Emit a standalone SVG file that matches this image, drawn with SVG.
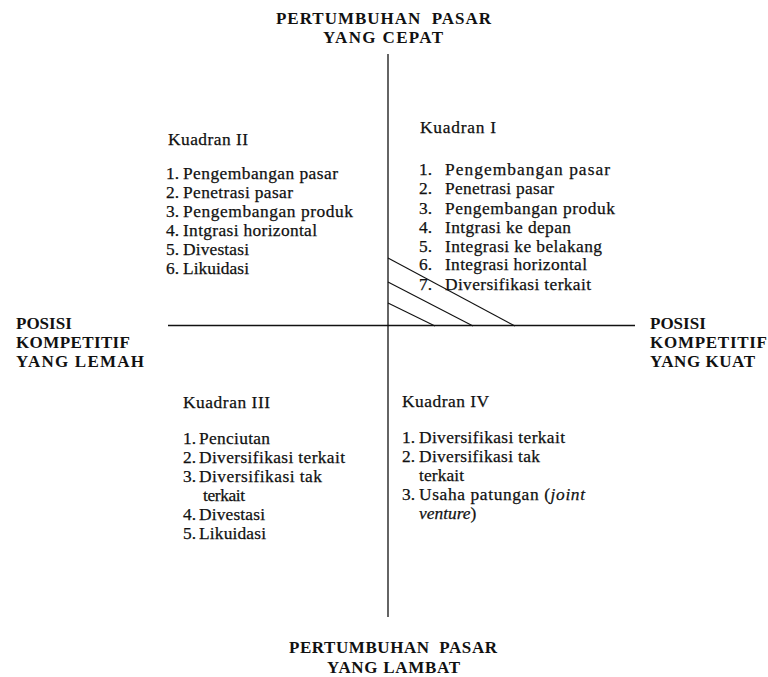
<svg xmlns="http://www.w3.org/2000/svg" width="768" height="677" viewBox="0 0 768 677">
<style>
.t{font-size:17.4px;fill:#111;stroke:#111;stroke-width:0.25}
.b{font-size:17px;font-weight:bold;fill:#111;white-space:pre}
.ax{stroke:#111;stroke-width:1.3;fill:none}
.h{stroke:#111;stroke-width:1.1;fill:none}
</style>
<rect width="768" height="677" fill="#fff"/>
<g id="connectors">
<line class="ax" x1="388" y1="54" x2="388" y2="617"/>
<line class="ax" x1="168" y1="325.5" x2="635" y2="325.5"/>
<line class="h" x1="388" y1="258" x2="515" y2="326"/>
<line class="h" x1="388" y1="282" x2="473" y2="326"/>
<line class="h" x1="388" y1="303" x2="435" y2="326"/>
</g>
<g font-family="'Liberation Serif', Tinos, 'Times New Roman', serif">
<g id="top-label">
<text class="b" x="276" y="23.5" textLength="215" lengthAdjust="spacing" xml:space="preserve">PERTUMBUHAN  PASAR</text>
<text class="b" x="323" y="43" textLength="120" lengthAdjust="spacing">YANG CEPAT</text>
</g>
<g id="bottom-label">
<text class="b" x="289" y="653" textLength="208" lengthAdjust="spacing" xml:space="preserve">PERTUMBUHAN  PASAR</text>
<text class="b" x="327" y="673" textLength="133" lengthAdjust="spacing">YANG LAMBAT</text>
</g>
<g id="left-label">
<text class="b" x="16" y="329">POSISI</text>
<text class="b" x="16" y="348" textLength="114" lengthAdjust="spacing">KOMPETITIF</text>
<text class="b" x="16" y="367" textLength="128" lengthAdjust="spacing">YANG LEMAH</text>
</g>
<g id="right-label">
<text class="b" x="650" y="329">POSISI</text>
<text class="b" x="650" y="348" textLength="117" lengthAdjust="spacing">KOMPETITIF</text>
<text class="b" x="650" y="367" textLength="105" lengthAdjust="spacing">YANG KUAT</text>
</g>
<g id="kuadran-2">
<text class="t" x="168" y="145" textLength="80" lengthAdjust="spacing">Kuadran II</text>
<text class="t" x="166" y="178.5">1.</text><text class="t" x="183" y="178.5" textLength="155" lengthAdjust="spacing">Pengembangan pasar</text>
<text class="t" x="166" y="197.5">2.</text><text class="t" x="183" y="197.5" textLength="110" lengthAdjust="spacing">Penetrasi pasar</text>
<text class="t" x="166" y="216.5">3.</text><text class="t" x="183" y="216.5" textLength="170" lengthAdjust="spacing">Pengembangan produk</text>
<text class="t" x="166" y="236">4.</text><text class="t" x="183" y="236" textLength="134" lengthAdjust="spacing">Intgrasi horizontal</text>
<text class="t" x="166" y="255">5.</text><text class="t" x="183" y="255" textLength="66" lengthAdjust="spacing">Divestasi</text>
<text class="t" x="166" y="274">6.</text><text class="t" x="183" y="274" textLength="66" lengthAdjust="spacing">Likuidasi</text>
</g>
<g id="kuadran-1">
<text class="t" x="420" y="133" textLength="76" lengthAdjust="spacing">Kuadran I</text>
<text class="t" x="419" y="175">1.</text><text class="t" x="445" y="175" textLength="165" lengthAdjust="spacing">Pengembangan pasar</text>
<text class="t" x="419" y="194">2.</text><text class="t" x="445" y="194" textLength="109" lengthAdjust="spacing">Penetrasi pasar</text>
<text class="t" x="419" y="214">3.</text><text class="t" x="445" y="214" textLength="170" lengthAdjust="spacing">Pengembangan produk</text>
<text class="t" x="419" y="232.5">4.</text><text class="t" x="445" y="232.5" textLength="126" lengthAdjust="spacing">Intgrasi ke depan</text>
<text class="t" x="419" y="251.5">5.</text><text class="t" x="445" y="251.5" textLength="157" lengthAdjust="spacing">Integrasi ke belakang</text>
<text class="t" x="419" y="270">6.</text><text class="t" x="445" y="270" textLength="142" lengthAdjust="spacing">Integrasi horizontal</text>
<text class="t" x="419" y="290">7.</text><text class="t" x="445" y="290" textLength="146" lengthAdjust="spacing">Diversifikasi terkait</text>
</g>
<g id="kuadran-3">
<text class="t" x="183" y="408" textLength="87" lengthAdjust="spacing">Kuadran III</text>
<text class="t" x="183" y="444">1.</text><text class="t" x="199" y="444" textLength="71" lengthAdjust="spacing">Penciutan</text>
<text class="t" x="183" y="463">2.</text><text class="t" x="199" y="463" textLength="146" lengthAdjust="spacing">Diversifikasi terkait</text>
<text class="t" x="183" y="482">3.</text><text class="t" x="199" y="482" textLength="123" lengthAdjust="spacing">Diversifikasi tak</text>
<text class="t" x="203" y="501" textLength="42" lengthAdjust="spacing">terkait</text>
<text class="t" x="183" y="520">4.</text><text class="t" x="199" y="520" textLength="66" lengthAdjust="spacing">Divestasi</text>
<text class="t" x="183" y="539">5.</text><text class="t" x="199" y="539" textLength="67" lengthAdjust="spacing">Likuidasi</text>
</g>
<g id="kuadran-4">
<text class="t" x="402" y="407" textLength="87" lengthAdjust="spacing">Kuadran IV</text>
<text class="t" x="402" y="443">1.</text><text class="t" x="419" y="443" textLength="146" lengthAdjust="spacing">Diversifikasi terkait</text>
<text class="t" x="402" y="462">2.</text><text class="t" x="419" y="462" textLength="121" lengthAdjust="spacing">Diversifikasi tak</text>
<text class="t" x="419" y="481" textLength="45" lengthAdjust="spacing">terkait</text>
<text class="t" x="402" y="500">3.</text><text class="t" x="419" y="500" textLength="166" lengthAdjust="spacing">Usaha patungan (<tspan font-style="italic">joint</tspan></text>
<text class="t" x="419" y="519"><tspan font-style="italic">venture</tspan>)</text>
</g>
</g>
</svg>
